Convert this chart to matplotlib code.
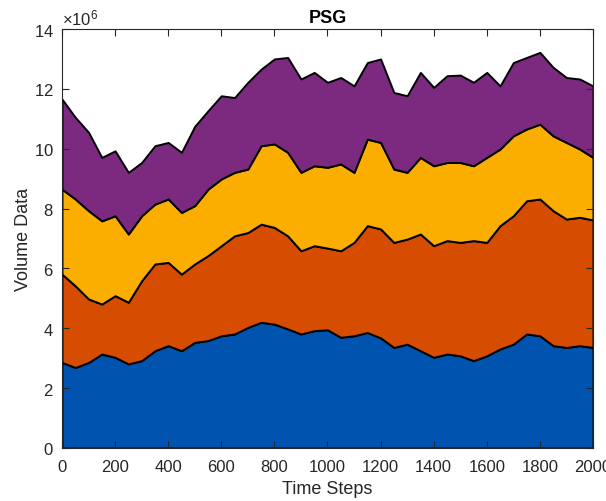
import numpy as np
import matplotlib
matplotlib.use('Agg')
import matplotlib.pyplot as plt
from matplotlib.ticker import ScalarFormatter

plt.rcParams['font.family'] = 'Liberation Sans'
plt.rcParams['mathtext.fontset'] = 'custom'
plt.rcParams['mathtext.rm'] = 'Liberation Sans'
plt.rcParams['mathtext.it'] = 'Liberation Sans'

# time steps sampled every 50
steps = np.arange(0, 2001, 50)

# volume per layer, in millions
vol_blue = [2.86, 2.69, 2.86, 3.14, 3.03, 2.81, 2.92, 3.25, 3.42, 3.25, 3.53,
            3.59, 3.75, 3.81, 4.03, 4.20, 4.14, 3.98, 3.81, 3.92, 3.95,
            3.70, 3.75, 3.86, 3.68, 3.36, 3.47, 3.25, 3.03, 3.14, 3.08,
            2.92, 3.08, 3.31, 3.47, 3.81, 3.75, 3.42, 3.36, 3.42, 3.36]
vol_red = [2.95, 2.73, 2.12, 1.67, 2.06, 2.06, 2.67, 2.90, 2.78, 2.56, 2.62,
           2.84, 3.01, 3.28, 3.17, 3.28, 3.23, 3.11, 2.78, 2.84, 2.73,
           2.89, 3.12, 3.57, 3.64, 3.51, 3.51, 3.90, 3.73, 3.79, 3.79,
           4.01, 3.79, 4.12, 4.29, 4.45, 4.57, 4.51, 4.29, 4.29, 4.26]
vol_yellow = [2.84, 2.90, 2.95, 2.78, 2.67, 2.28, 2.17, 2.00, 2.12, 2.06, 1.95,
              2.22, 2.23, 2.12, 2.12, 2.62, 2.79, 2.79, 2.62, 2.67, 2.70,
              2.90, 2.34, 2.89, 2.89, 2.45, 2.23, 2.56, 2.67, 2.61, 2.67,
              2.50, 2.84, 2.56, 2.67, 2.40, 2.50, 2.50, 2.56, 2.28, 2.09]
vol_purple = [3.01, 2.73, 2.62, 2.12, 2.17, 2.06, 1.78, 1.95, 1.89, 2.01, 2.65,
              2.62, 2.78, 2.50, 2.90, 2.56, 2.84, 3.17, 3.12, 3.12, 2.84,
              2.89, 2.89, 2.56, 2.79, 2.56, 2.56, 2.84, 2.62, 2.90, 2.92,
              2.79, 2.84, 2.11, 2.45, 2.39, 2.40, 2.29, 2.17, 2.34, 2.39]

colors = ['#0053AE', '#D64C00', '#FBAE00', '#7B2A80']
txt = '#262626'

fig = plt.figure(figsize=(6.06, 5.02), dpi=100)
ax = fig.add_axes([0.1023, 0.1056, 0.8762, 0.8346])

layers = [np.array(v) * 1e6 for v in (vol_blue, vol_red, vol_yellow, vol_purple)]
ax.stackplot(steps, *layers, colors=colors, edgecolor='k', linewidth=1.4)

ax.set_xlim(0, 2000)
ax.set_ylim(0, 14e6)
ax.set_xticks(np.arange(0, 2001, 200))
ax.set_yticks(np.arange(0, 14.1e6, 2e6))

# MATLAB-style x10^6 exponent
fmt = ScalarFormatter(useMathText=True)
fmt.set_powerlimits((6, 6))
ax.yaxis.set_major_formatter(fmt)
ax.yaxis.get_offset_text().set_fontsize(12)
ax.yaxis.get_offset_text().set_color(txt)

ax.tick_params(direction='in', top=True, right=True, length=5, width=0.8,
               labelsize=12, colors=txt)
ax.tick_params(axis='x', pad=8)
ax.tick_params(axis='y', pad=6)
for s in ax.spines.values():
    s.set_color(txt)
    s.set_linewidth(0.8)

ax.set_xlabel('Time Steps', fontsize=13, color=txt, labelpad=4)
ax.set_ylabel('Volume Data', fontsize=13, color=txt, labelpad=1)
ax.set_title('PSG', fontsize=13, fontweight='bold', pad=5)

fig.savefig('out.png', dpi=100)
